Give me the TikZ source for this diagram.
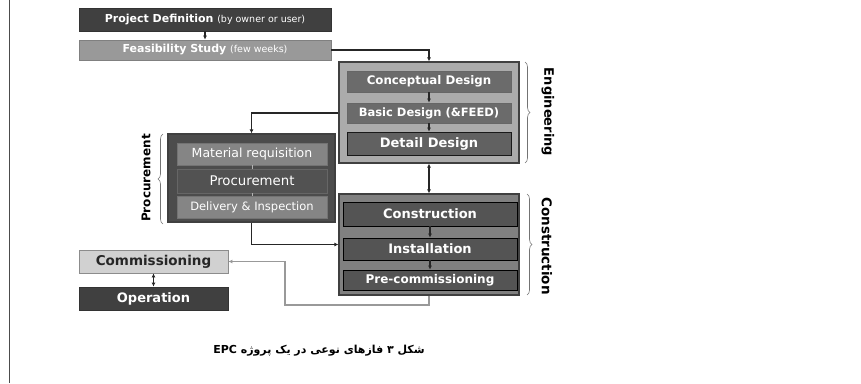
\documentclass[tikz,border=0pt]{standalone}
\usepackage{fontspec}
\setmainfont{DejaVu Sans}
\newfontfamily\arabicfont[Script=Arabic]{DejaVu Sans}
\TeXXeTstate=1
\usetikzlibrary{arrows.meta,decorations.pathreplacing}

\begin{document}
\begin{tikzpicture}[x=1pt,y=-1pt,
  box/.style={draw=black!80, line width=0.8pt, inner sep=0pt, text=white, font=\bfseries\fontsize{11.8}{12}\selectfont},
  group/.style={draw=black!75, line width=1.2pt, inner sep=0pt},
  sub/.style={box, minimum width=150, minimum height=22, font=\fontsize{12.5}{12}\selectfont},
  flow/.style={draw=black!85, line width=1.3pt, -{Latex[length=4pt,width=4pt]}},
  back/.style={draw=black!40, line width=1.3pt, -{Latex[length=4pt,width=4pt]}},
  phase/.style={draw=black!55, line width=0.6pt, decorate, decoration={brace, amplitude=5pt}},
  side/.style={font=\bfseries\fontsize{13}{12}\selectfont}]
\useasboundingbox (0,0) rectangle (861,383);
\draw[black!70, line width=0.8pt] (9,0) -- (9,383);

% pre-project phases
\node[box, fill=black!75, minimum width=252, minimum height=23, font=\bfseries\fontsize{11}{12}\selectfont] (proj) at (205,19.5)
  {Project Definition {\mdseries\fontsize{9.5}{10}\selectfont(by owner or user)}};
\node[box, fill=black!40, draw=black!50, minimum width=252, minimum height=20, font=\bfseries\fontsize{11}{12}\selectfont] (feas) at (205,50)
  {Feasibility Study {\mdseries\fontsize{9.5}{10}\selectfont(few weeks)}};

% engineering
\node[group, fill=black!33, minimum width=180, minimum height=101] (eng) at (429,112.5) {};
\node[box, fill=black!58, draw=black!60, minimum width=164, minimum height=21] (concept) at (429,81.5) {Conceptual Design};
\node[box, fill=black!58, draw=black!60, minimum width=164, minimum height=20, font=\bfseries\fontsize{11.5}{12}\selectfont] (basic) at (429,113) {Basic Design (\&FEED)};
\node[box, fill=black!62, draw=black!90, minimum width=164, minimum height=23, font=\bfseries\fontsize{13}{12}\selectfont] (detail) at (429,143.5) {Detail Design};
\draw[phase] (525,62) -- (525,163);
\node[side, rotate=-90] (englab) at (548,112) {Engineering};

% procurement
\node[group, fill=black!70, minimum width=167, minimum height=88] (proc) at (251.5,178) {};
\node[sub, fill=black!48, draw=black!55] (matreq) at (252,154) {Material requisition};
\node[sub, fill=black!68, draw=black!60, minimum height=24, font=\fontsize{13.3}{12}\selectfont] (purch) at (252,181) {Procurement};
\node[sub, fill=black!48, draw=black!55, font=\fontsize{11.5}{12}\selectfont] (deliv) at (252,207) {Delivery \& Inspection};
\draw[phase] (163,224) -- (163,134);
\node[side, font=\bfseries\fontsize{12}{12}\selectfont, rotate=90] (proclab) at (146,178) {Procurement};

% construction
\node[group, fill=black!50, minimum width=180, minimum height=101] (cons) at (429,244.5) {};
\node[box, fill=black!67, draw=black, minimum width=174, minimum height=24, font=\bfseries\fontsize{13}{12}\selectfont] (constr) at (430,214) {Construction};
\node[box, fill=black!67, draw=black, minimum width=174, minimum height=22, font=\bfseries\fontsize{13}{12}\selectfont] (inst) at (430,249) {Installation};
\node[box, fill=black!67, draw=black, minimum width=174, minimum height=20, font=\bfseries\fontsize{12}{12}\selectfont] (precom) at (430,280) {Pre-commissioning};
\draw[phase] (527,194) -- (527,295);
\node[side, font=\bfseries\fontsize{13.5}{12}\selectfont, rotate=-90] (conslab) at (547,246) {Construction};

% start-up
\node[box, fill=black!18, draw=black!45, text=black!85, minimum width=149, minimum height=23, font=\bfseries\fontsize{13.5}{12}\selectfont] (comm) at (153.5,261.5) {Commissioning};
\node[box, fill=black!75, minimum width=149, minimum height=23, font=\bfseries\fontsize{13}{12}\selectfont] (oper) at (153.5,298.5) {Operation};

% connectors
\draw[flow] (proj.south) -- (feas.north);
\draw[flow] (feas.east) -| (eng.north);
\draw[flow] (concept.south) -- (basic.north);
\draw[flow] (basic.south) -- (detail.north);
\draw[flow] (eng.west |- basic.west) -| (proc.north);
\draw[flow, {Latex[length=4pt,width=4pt]}-{Latex[length=4pt,width=4pt]}] (eng.south) -- (cons.north);
\draw[black!30, line width=1pt] (matreq.south) -- (purch.north) (purch.south) -- (deliv.north);
\draw[flow] (proc.south) |- (cons.west);
\draw[flow] (constr.south) -- (inst.north);
\draw[flow] (inst.south) -- (precom.north);
\coordinate (ret) at (285,305);
\draw[back] (cons.south) |- (ret) |- (comm.east);
\draw[flow, {Latex[length=4pt,width=4pt]}-{Latex[length=4pt,width=4pt]}] (comm.south) -- (oper.north);

\node[font=\bfseries\fontsize{11}{13}\selectfont] (caption) at (319,351)
  {\arabicfont\beginR شکل ۳ فازهای نوعی در یک پروژه \beginL EPC\endL\endR};
\end{tikzpicture}
\end{document}
